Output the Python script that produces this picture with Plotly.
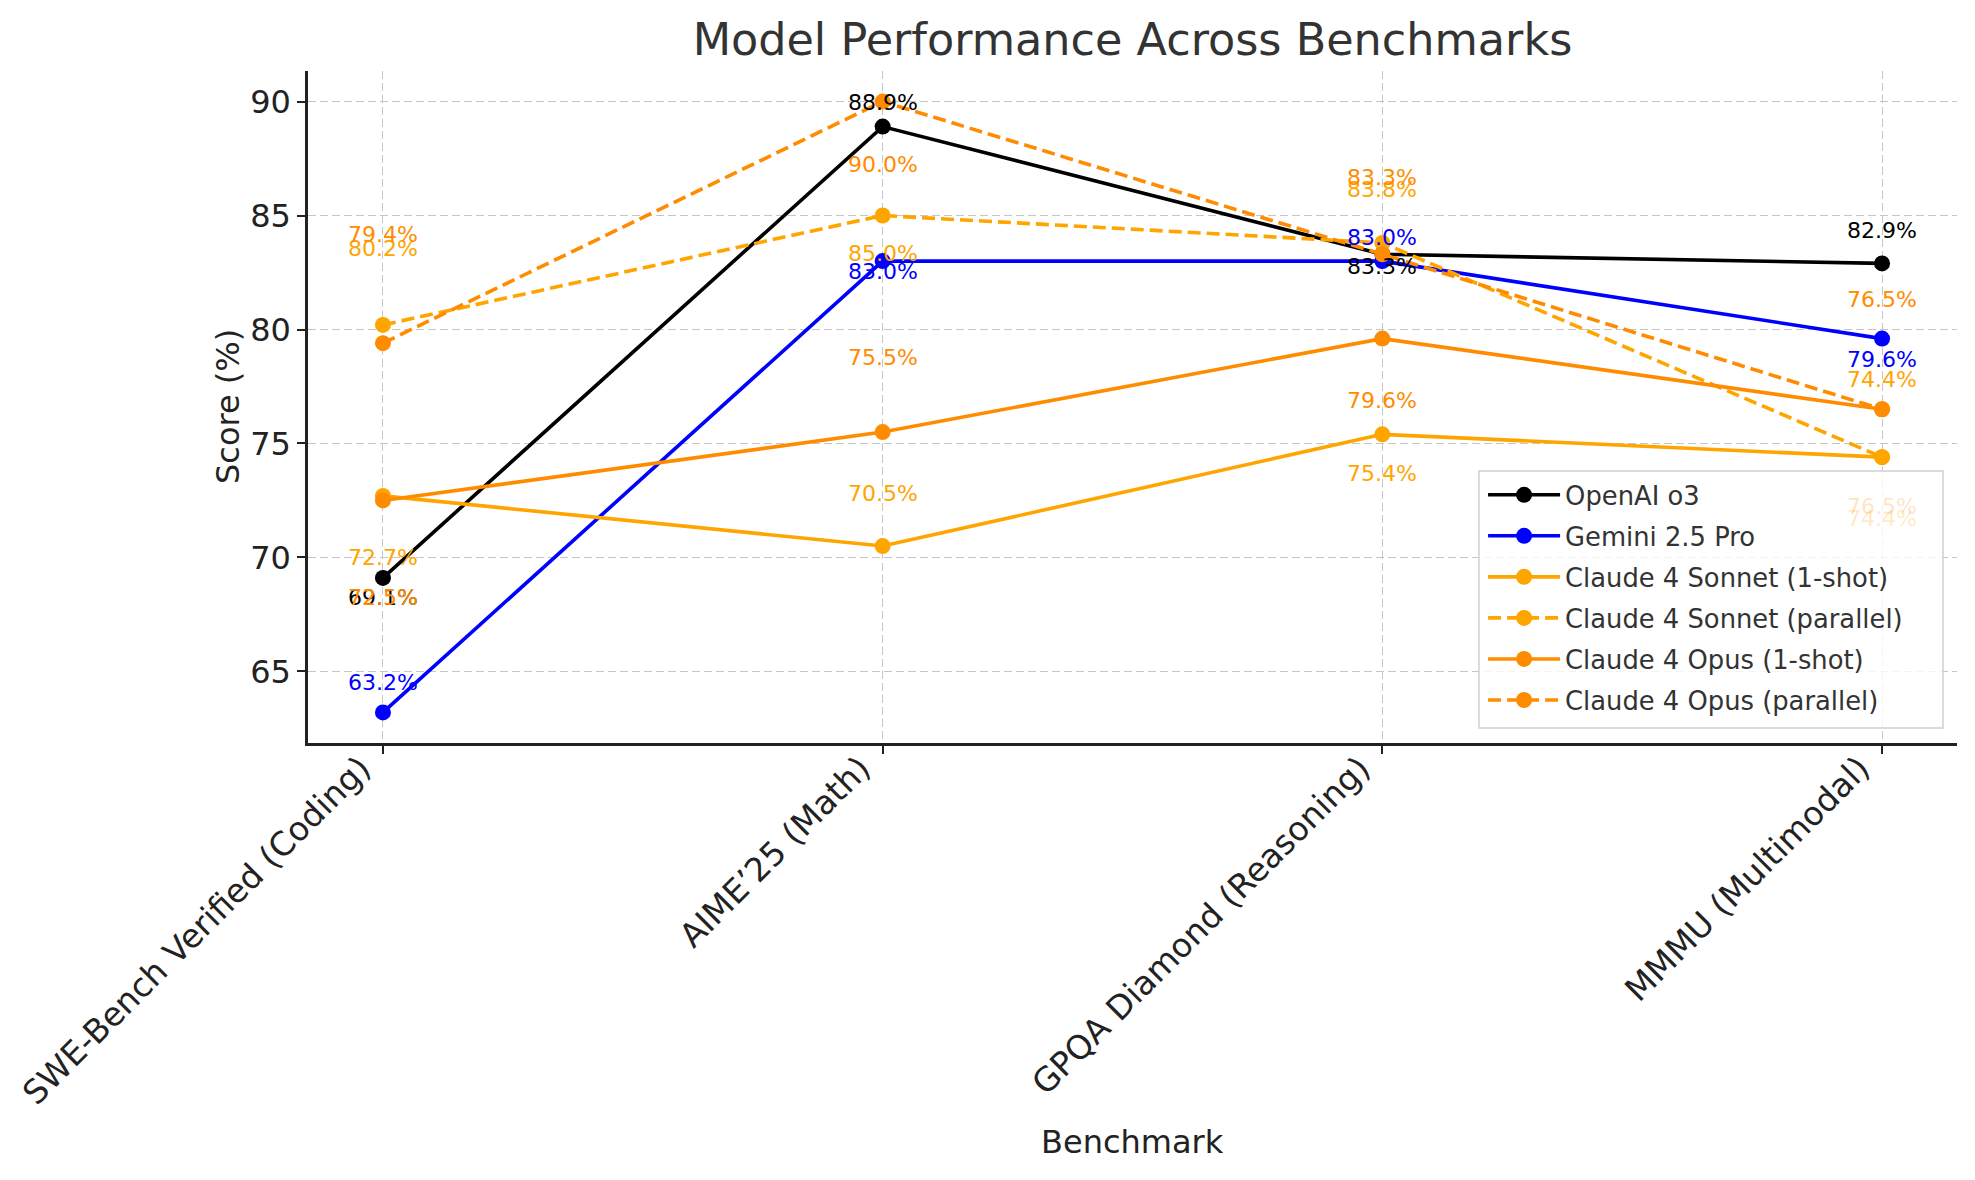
import plotly.graph_objects as go

benchmarks = ["SWE-Bench Verified (Coding)", "AIME'25 (Math)", "GPQA Diamond (Reasoning)", "MMMU (Multimodal)"]
tick_labels = ["SWE-Bench Verified (Coding)", "AIME’25 (Math)", "GPQA Diamond (Reasoning)", "MMMU (Multimodal)"]

openai_o3 = [69.1, 88.9, 83.3, 82.9]
gemini_25_pro = [63.2, 83.0, 83.0, 79.6]
sonnet_1shot = [72.7, 70.5, 75.4, 74.4]
sonnet_parallel = [80.2, 85.0, 83.8, 74.4]
opus_1shot = [72.5, 75.5, 79.6, 76.5]
opus_parallel = [79.4, 90.0, 83.3, 76.5]

series_names = ["OpenAI o3", "Gemini 2.5 Pro", "Claude 4 Sonnet (1-shot)",
                "Claude 4 Sonnet (parallel)", "Claude 4 Opus (1-shot)", "Claude 4 Opus (parallel)"]
series_values = [openai_o3, gemini_25_pro, sonnet_1shot, sonnet_parallel, opus_1shot, opus_parallel]

# styles
colors = ["#000000", "#0000ff", "#ffa500", "#ffa500", "#ff8c00", "#ff8c00"]
dashes = ["solid", "solid", "solid", "13px,6px", "solid", "13px,6px"]
# label vertical offsets (in score units) as placed in the original
label_dy = [
    [-0.85, 1.08, -0.52, 1.45],
    [1.33, -0.46, 1.05, -0.90],
    [-2.70, 2.29, -1.73, -2.70],
    [3.35, -1.68, 2.34, 3.40],
    [-4.25, 3.28, -2.70, -4.25],
    [4.77, -2.74, 3.35, 4.80],
]

FONT = "DejaVu Sans"
W, H = 1967, 1172          # page adds an 8px body margin
ML, MR, MT, MB = 300, 18, 63, 437
Y_RANGE = [61.86, 91.34]
LEGEND_TOP_VALUE = 73.8     # labels under the semi-transparent legend look faded
LEGEND_BOX = dict(x0=0.7101, x1=0.9915, y0=0.0223, y1=0.4048)  # paper coords

fig = go.Figure()
for name, vals, col, dash in zip(series_names, series_values, colors, dashes):
    fig.add_trace(go.Scatter(
        x=benchmarks, y=vals, name=name, legendgroup=name, mode="lines+markers",
        line=dict(color=col, width=3.6, dash=dash),
        marker=dict(color=col, size=16),
    ))

annotations = []
for vals, col, dys in zip(series_values, colors, label_dy):
    for i, (b, v, dy) in enumerate(zip(benchmarks, vals, dys)):
        faded = (i == len(benchmarks) - 1) and (v + dy < LEGEND_TOP_VALUE)
        annotations.append(dict(
            x=b, y=v + dy, xref="x", yref="y", text=f"{v:.1f}%",
            showarrow=False, font=dict(family=FONT, size=22, color=col),
            xanchor="center", yanchor="middle", opacity=0.22 if faded else 1,
        ))

plot_h = H - MT - MB
annotations.append(dict(
    x=0.5, y=-(1134 - (H - MB)) / plot_h, xref="paper", yref="paper", text="Benchmark",
    showarrow=False, xanchor="center", yanchor="middle",
    font=dict(family=FONT, size=32, color="#222222"),
))
annotations.append(dict(
    x=-(ML - 220) / (W - ML - MR), y=0.5, xref="paper", yref="paper", text="Score (%)",
    showarrow=False, xanchor="center", yanchor="middle", textangle=-90,
    font=dict(family=FONT, size=32, color="#222222"),
))

fig.update_layout(
    width=W, height=H,
    margin=dict(l=ML, r=MR, t=MT, b=MB, autoexpand=False),
    paper_bgcolor="white", plot_bgcolor="white",
    font=dict(family=FONT, color="#222222"),
    title=dict(text="Model Performance Across Benchmarks", x=(ML + (W - MR)) / 2 / W, xanchor="center",
               y=1 - 31 / H, yanchor="middle", font=dict(family=FONT, size=44.5, color="#333333")),
    showlegend=True,
    legend=dict(x=0.7126, y=0.029, xanchor="left", yanchor="bottom", traceorder="grouped",
                bgcolor="rgba(255,255,255,0)", borderwidth=0,
                font=dict(family=FONT, size=25.8, color="#333333"), itemwidth=72,
                tracegroupgap=4.5),
    shapes=[dict(type="rect", xref="paper", yref="paper", layer="above",
                 fillcolor="rgba(255,255,255,0.8)", line=dict(color="#d0d0d0", width=1.5),
                 **LEGEND_BOX)],
    annotations=annotations,
)
fig.update_xaxes(
    type="category", categoryorder="array", categoryarray=benchmarks,
    range=[-0.15, 3.15], tickmode="array", tickvals=benchmarks, ticktext=tick_labels,
    tickangle=-45, tickfont=dict(family=FONT, size=33, color="#222222"),
    ticklabelshift=-22, ticklabelstandoff=-18,
    showline=True, linecolor="#222222", linewidth=2.5, mirror=False,
    ticks="outside", ticklen=8, tickwidth=2, tickcolor="#222222",
    showgrid=True, gridcolor="#c6c6c6", gridwidth=1.3, griddash="8px,4px",
    zeroline=False,
)
fig.update_yaxes(
    range=Y_RANGE, tickmode="array", tickvals=[65, 70, 75, 80, 85, 90],
    tickfont=dict(family=FONT, size=32, color="#222222"),
    showline=True, linecolor="#222222", linewidth=2.5, mirror=False,
    ticks="outside", ticklen=8, tickwidth=2, tickcolor="#222222",
    showgrid=True, gridcolor="#c6c6c6", gridwidth=1.3, griddash="8px,4px",
    zeroline=False,
)

fig.write_html("out.html")
